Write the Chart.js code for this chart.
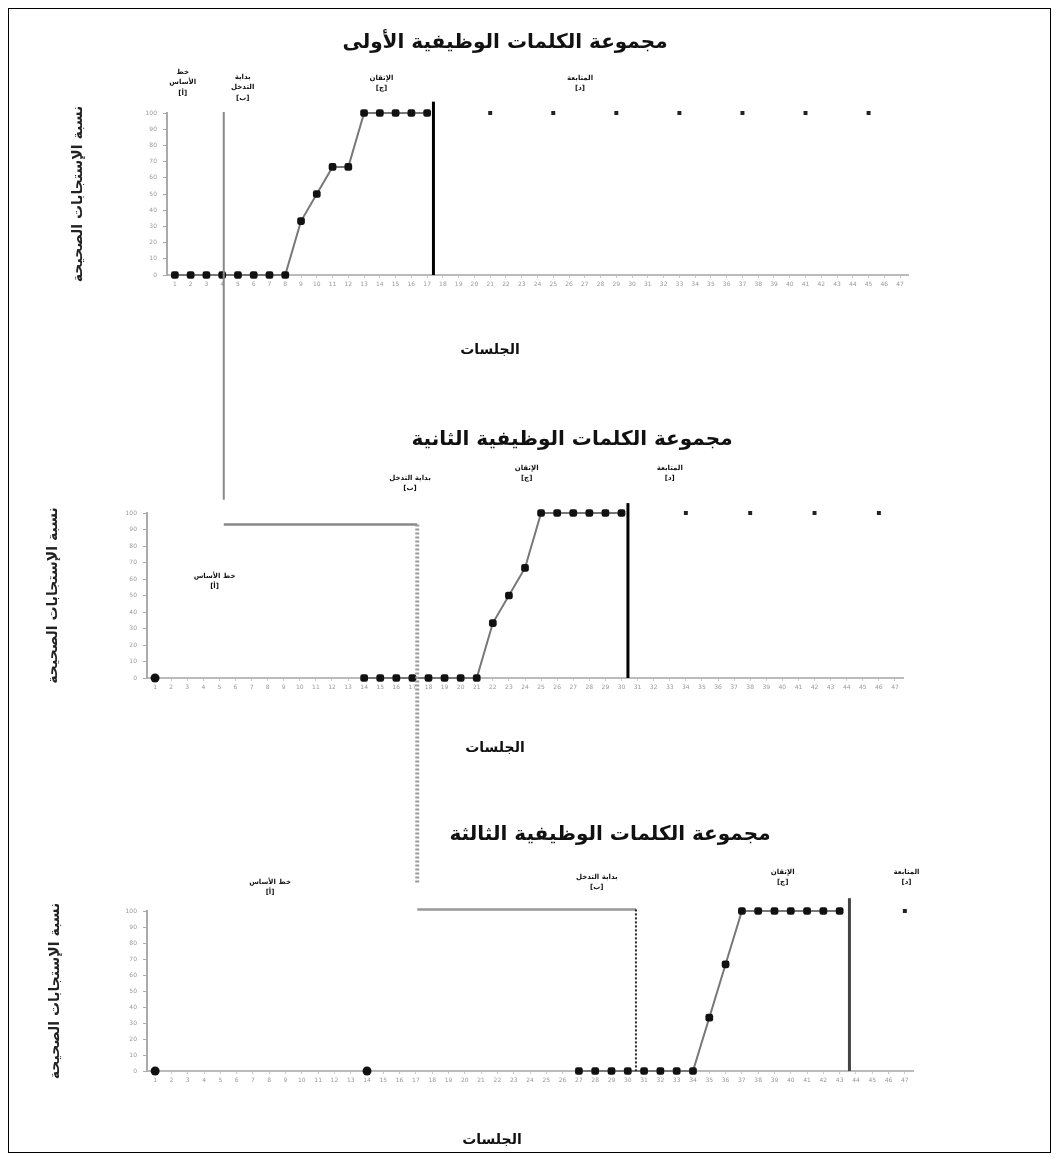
<!DOCTYPE html>
<html lang="ar">
<head>
<meta charset="utf-8">
<script src="https://cdn.jsdelivr.net/npm/chart.js@4.4.0/dist/chart.umd.min.js"></script>
<style>
  html, body { margin: 0; padding: 0; background: #fff; }
  .frame { position: absolute; left: 8px; top: 8px; width: 1041px; height: 1143px; border: 1px solid #000; }
  .panel { position: absolute; left: 0; top: 0; width: 1057px; height: 1159px; }
</style>
</head>
<body>
<div class="frame"></div>
<div class="panel"><canvas id="g1"></canvas></div>
<div class="panel"><canvas id="g2"></canvas></div>
<div class="panel"><canvas id="g3"></canvas></div>
<script>
// الجلسات والقيم
var sessions = ['1','2','3','4','5','6','7','8','9','10','11','12','13','14','15','16',
  '17','18','19','20','21','22','23','24','25','26','27','28','29','30','31','32','33',
  '34','35','36','37','38','39','40','41','42','43','44','45','46','47'];
var yTicks = [0, 10, 20, 30, 40, 50, 60, 70, 80, 90, 100];

// المجموعة الأولى
var g1Sessions = [1,2,3,4,5,6,7,8,9,10,11,12,13,14,15,16,17];
var g1Values = [0,0,0,0,0,0,0,0,33.3,50,66.7,66.7,100,100,100,100,100];
var g1FollowSessions = [21,25,29,33,37,41,45];
var g1FollowValues = [100,100,100,100,100,100,100];

// المجموعة الثانية
var g2ProbeSessions = [1];
var g2ProbeValues = [0];
var g2Sessions = [14,15,16,17,18,19,20,21,22,23,24,25,26,27,28,29,30];
var g2Values = [0,0,0,0,0,0,0,0,33.3,50,66.7,100,100,100,100,100,100];
var g2FollowSessions = [34,38,42,46];
var g2FollowValues = [100,100,100,100];

// المجموعة الثالثة
var g3ProbeSessions = [1,14];
var g3ProbeValues = [0,0];
var g3Sessions = [27,28,29,30,31,32,33,34,35,36,37,38,39,40,41,42,43];
var g3Values = [0,0,0,0,0,0,0,0,33.3,66.7,100,100,100,100,100,100,100];
var g3FollowSessions = [47];
var g3FollowValues = [100];

var yTitle = 'نسبة الإستجابات الصحيحة';
var xTitle = 'الجلسات';
var arFont = 'DejaVu Sans';
Chart.defaults.font.family = arFont;

function pts(sess, vals) {
  return sess.map(function (s, i) { return { x: String(s), y: vals[i] }; });
}

function runSet(sess, vals) {
  return { data: pts(sess, vals), clip: false, borderColor: '#777', borderWidth: 2, pointStyle: 'rectRounded',
    pointRadius: 4.5, pointBackgroundColor: '#111', pointBorderColor: '#111', pointBorderWidth: 0 };
}
function probeSet(sess, vals) {
  return { data: pts(sess, vals), clip: false, showLine: false, pointStyle: 'circle',
    pointRadius: 4.5, pointBackgroundColor: '#111', pointBorderColor: '#111', pointBorderWidth: 0 };
}
function followSet(sess, vals) {
  return { data: pts(sess, vals), clip: false, showLine: false, pointStyle: 'rect',
    pointRadius: 2.8, pointBackgroundColor: '#222', pointBorderColor: '#222', pointBorderWidth: 0 };
}

// عناوين وخطوط المراحل
var phasePlugin = {
  id: 'phaseMarks',
  afterDatasetsDraw: function (chart, args, o) {
    var ctx = chart.ctx, xs = chart.scales.x, ys = chart.scales.y;
    ctx.save();
    ctx.fillStyle = '#111';
    ctx.textAlign = 'center';
    ctx.textBaseline = 'middle';
    ctx.font = 'bold 20px "' + arFont + '"';
    ctx.fillText(o.title, o.titleX, o.titleY);
    ctx.font = 'bold 14px "' + arFont + '"';
    ctx.fillText(xTitle, o.xTitleX, o.xTitleY);
    ctx.font = 'bold 7px "' + arFont + '"';
    o.labels.forEach(function (l) {
      var x = xs.getPixelForValue(l.at);
      l.lines.forEach(function (t, i) { ctx.fillText(t, x, l.y + i * 10.5); });
    });
    o.lines.forEach(function (l) {
      var x = xs.getPixelForValue(l.at);
      ctx.beginPath();
      ctx.strokeStyle = l.color;
      ctx.lineWidth = l.width;
      ctx.moveTo(x, ys.getPixelForValue(l.from));
      ctx.lineTo(x, ys.getPixelForValue(0));
      ctx.stroke();
    });
    ctx.restore();
  }
};

var charts = [];

// الخط المتدرج بين اللوحات
var connectPlugin = {
  id: 'connectors',
  afterDraw: function (chart) {
    var a = charts[0], b = charts[1], c = chart;
    var ctx = chart.ctx;
    var x1 = a.scales.x.getPixelForValue(3.1);
    var x2 = b.scales.x.getPixelForValue(16.3);
    var x3 = c.scales.x.getPixelForValue(29.5);
    function seg(xa, ya, xb, yb, color, w, dash) {
      ctx.beginPath();
      ctx.setLineDash(dash || []);
      ctx.strokeStyle = color;
      ctx.lineWidth = w;
      ctx.moveTo(xa, ya);
      ctx.lineTo(xb, yb);
      ctx.stroke();
    }
    ctx.save();
    seg(x1, a.scales.y.getPixelForValue(100.6), x1, b.scales.y.getPixelForValue(108), '#888', 2);
    seg(x1, b.scales.y.getPixelForValue(93), x2, b.scales.y.getPixelForValue(93), '#888', 2.5);
    seg(x2, b.scales.y.getPixelForValue(93), x2, c.scales.y.getPixelForValue(117.5), '#999', 4, [2, 2]);
    seg(x2, c.scales.y.getPixelForValue(101), x3, c.scales.y.getPixelForValue(101), '#999', 2.5);
    seg(x3, c.scales.y.getPixelForValue(101), x3, c.scales.y.getPixelForValue(0), '#222', 2, [2, 2]);
    ctx.restore();
  }
};

function makeChart(id, p, datasets, marks, extra) {
  return new Chart(document.getElementById(id), {
    type: 'line',
    data: { labels: sessions, datasets: datasets },
    options: {
      responsive: true,
      maintainAspectRatio: false,
      animation: false,
      layout: { padding: { left: 0, top: p.top, right: 1057 - p.right, bottom: 1159 - p.bottom - 20 } },
      plugins: { legend: { display: false }, tooltip: { enabled: false }, phaseMarks: marks },
      scales: {
        x: {
          offset: true,
          border: { color: '#bbb', width: 2 },
          grid: { drawOnChartArea: false, color: '#ccc', tickLength: 3 },
          ticks: { autoSkip: false, maxRotation: 0, minRotation: 0, font: { size: 6 }, color: '#999', padding: 3 },
          afterFit: function (s) { s.height = 20; }
        },
        y: {
          min: 0, max: 100,
          border: { color: '#aaa', width: 2 },
          grid: { drawOnChartArea: false, color: '#aaa', tickLength: 4 },
          ticks: { font: { size: 6 }, color: '#999', padding: 6 },
          afterBuildTicks: function (s) { s.ticks = yTicks.map(function (v) { return { value: v }; }); },
          title: { display: true, text: yTitle, color: '#222',
            font: { family: arFont, size: 14, weight: 'bold' }, padding: { top: p.yTitle - 8, bottom: 0 } },
          afterFit: function (s) { s.width = p.left; }
        }
      }
    },
    plugins: extra ? [phasePlugin, extra] : [phasePlugin]
  });
}

charts.push(makeChart('g1', { left: 167, right: 908, top: 113, bottom: 275, yTitle: 78 },
  [runSet(g1Sessions, g1Values), followSet(g1FollowSessions, g1FollowValues)],
  {
    title: 'مجموعة الكلمات الوظيفية الأولى', titleX: 505, titleY: 43, xTitleX: 490, xTitleY: 350,
    labels: [
      { at: 0.5, y: 72, lines: ['خط', 'الأساس', '[أ]'] },
      { at: 4.3, y: 77, lines: ['بداية', 'التدخل', '[ب]'] },
      { at: 13.1, y: 78, lines: ['الإتقان', '[ج]'] },
      { at: 25.7, y: 78, lines: ['المتابعة', '[د]'] }
    ],
    lines: [{ at: 16.4, from: 107, color: '#000', width: 3 }]
  }));

charts.push(makeChart('g2', { left: 147, right: 903, top: 513, bottom: 678, yTitle: 53 },
  [probeSet(g2ProbeSessions, g2ProbeValues), runSet(g2Sessions, g2Values), followSet(g2FollowSessions, g2FollowValues)],
  {
    title: 'مجموعة الكلمات الوظيفية الثانية', titleX: 572, titleY: 440, xTitleX: 495, xTitleY: 748,
    labels: [
      { at: 3.7, y: 576, lines: ['خط الأساس', '[أ]'] },
      { at: 15.85, y: 478, lines: ['بداية التدخل', '[ب]'] },
      { at: 23.1, y: 468, lines: ['الإتقان', '[ج]'] },
      { at: 32.0, y: 468, lines: ['المتابعة', '[د]'] }
    ],
    lines: [{ at: 29.4, from: 106, color: '#000', width: 3 }]
  }));

charts.push(makeChart('g3', { left: 147, right: 913, top: 911, bottom: 1071, yTitle: 55 },
  [probeSet(g3ProbeSessions, g3ProbeValues), runSet(g3Sessions, g3Values), followSet(g3FollowSessions, g3FollowValues)],
  {
    title: 'مجموعة الكلمات الوظيفية الثالثة', titleX: 610, titleY: 835, xTitleX: 492, xTitleY: 1140,
    labels: [
      { at: 7.05, y: 882, lines: ['خط الأساس', '[أ]'] },
      { at: 27.1, y: 877, lines: ['بداية التدخل', '[ب]'] },
      { at: 38.5, y: 872, lines: ['الإتقان', '[ج]'] },
      { at: 46.1, y: 872, lines: ['المتابعة', '[د]'] }
    ],
    lines: [{ at: 42.6, from: 108, color: '#444', width: 3 }]
  }, connectPlugin));
</script>
</body>
</html>
